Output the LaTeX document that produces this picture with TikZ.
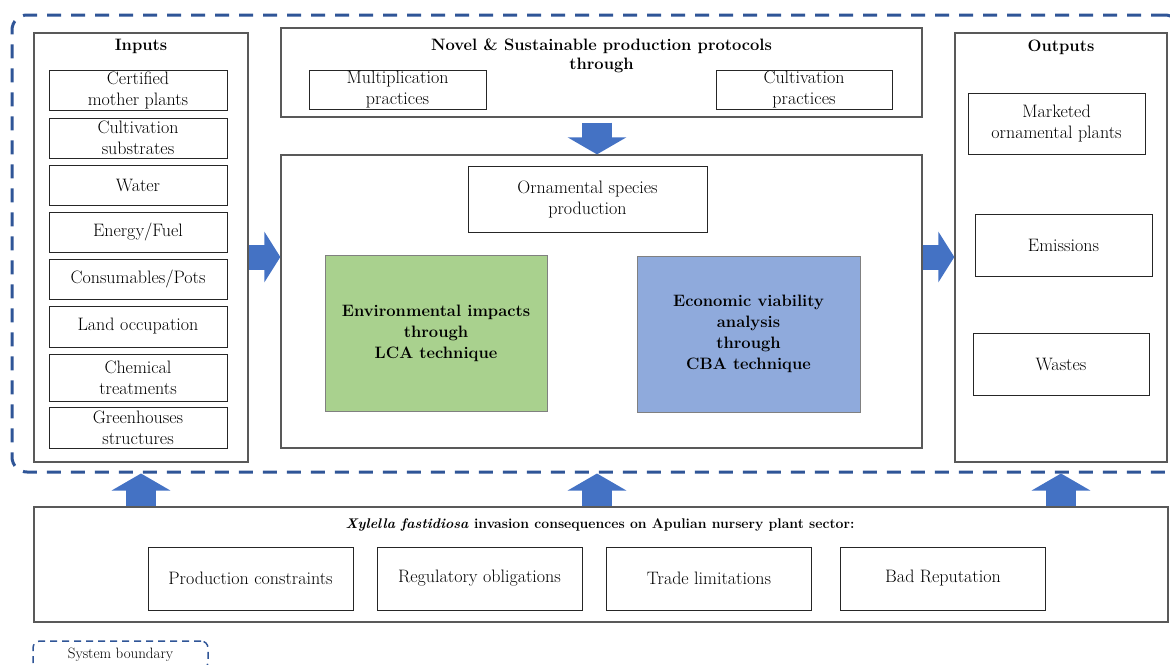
\documentclass[tikz,border=0pt]{standalone}
\usetikzlibrary{arrows.meta}
\usetikzlibrary{positioning}

\definecolor{arrowblue}{HTML}{4472C4}
\definecolor{bounddash}{HTML}{2F5597}
\definecolor{lcagreen}{HTML}{A9D18E}
\definecolor{cbablue}{HTML}{8FAADC}

\begin{document}
\begin{tikzpicture}[x=1pt, y=-1pt,
    box/.style={draw=black!85, line width=1pt, inner sep=0pt, align=center,
      font=\fontsize{18}{21}\selectfont},
    frame/.style={draw=black!65, line width=1.3pt, inner sep=0pt},
    heading/.style={inner sep=0pt, align=center, font=\fontsize{16.5}{19}\selectfont\bfseries},
    method/.style={draw=black!50, line width=1pt, inner sep=0pt, align=center,
      font=\fontsize{16.5}{21}\selectfont\bfseries},
    hfat/.style={draw=arrowblue, line width=25pt, -{Triangle[length=16pt, width=50pt]}},
    vfat/.style={draw=arrowblue, line width=30pt, -{Triangle[length=17pt, width=58pt]}},
    boundline/.style={draw=bounddash, dash pattern=on 14pt off 10pt, rounded corners=15pt}]
  \useasboundingbox (0, 0) rectangle (1170, 664);

  % system boundary
  \node[boundline, line width=3pt, inner sep=0pt, minimum width=1168pt, minimum height=457pt]
    (boundary) at (596, 243.5) {};

  % inputs
  \node[frame, minimum width=214pt, minimum height=429pt] (inputs) at (141, 247.5) {};
  \node[heading, below=7pt of inputs.north] (inputs-title) {Inputs};
  \foreach \name/\y/\h/\txt in {cert/90/40/{Certified\\mother plants},
      subst/138/40/{Cultivation\\substrates},
      water/185/40/{Water},
      fuel/232/40/{Energy/Fuel},
      pots/279/40/{Consumables/Pots},
      land/326.5/41/{Land occupation},
      chem/377.5/47/{Chemical\\treatments},
      green/427.5/41/{Greenhouses\\structures}}
    \node[box, minimum width=178pt, minimum height=\h pt] (\name) at (138, \y) {\txt};

  % production protocols
  \node[frame, minimum width=641pt, minimum height=89pt] (proto) at (601.5, 72.5) {};
  \node[heading, below=11pt of proto.north] (proto-title)
    {Novel \& Sustainable production protocols\\through};
  \node[box, minimum width=177pt, minimum height=39pt] (multi) at (397.5, 89.5) {Multiplication\\practices};
  \node[box, minimum width=176pt, minimum height=39pt] (cultp) at (804, 89.5) {Cultivation\\practices};

  % production system
  \node[frame, minimum width=641pt, minimum height=293pt] (system) at (601.5, 301.5) {};
  \node[box, minimum width=239pt, minimum height=66pt] (orn) at (587.5, 199) {Ornamental species\\production};
  \node[method, fill=lcagreen, minimum width=222pt, minimum height=156pt] (lca) at (436, 333)
    {Environmental impacts\\through\\LCA technique};
  \node[method, fill=cbablue, minimum width=223pt, minimum height=156pt] (cba) at (748.5, 334)
    {Economic viability\\analysis\\through\\CBA technique};

  % outputs
  \node[frame, minimum width=212pt, minimum height=429pt] (outputs) at (1061, 247.5) {};
  \node[heading, below=7pt of outputs.north] (outputs-title) {Outputs};
  \node[box, minimum width=177pt, minimum height=61pt] (market) at (1056.5, 123.5) {Marketed\\ornamental plants};
  \node[box, minimum width=177pt, minimum height=62pt] (emis) at (1063.5, 245) {Emissions};
  \node[box, minimum width=176pt, minimum height=62pt] (waste) at (1061, 364) {Wastes};

  % Xylella consequences
  \node[frame, minimum width=1134pt, minimum height=115pt] (xylella) at (601, 564.5) {};
  \node[inner sep=0pt, font=\fontsize{14}{17}\selectfont\bfseries] (xylella-title) at (600, 525)
    {\textit{Xylella fastidiosa} invasion consequences on Apulian nursery plant sector:};
  \foreach \name/\x/\txt in {prod/250.5/{Production constraints},
      regul/479.5/{Regulatory obligations},
      trade/709/{Trade limitations},
      bad/943/{Bad Reputation}}
    \node[box, minimum width=205pt, minimum height=63pt] (\name) at (\x, 578.5) {\txt};

  % legend
  \node[boundline, line width=1.5pt, rounded corners=7pt, dash pattern=on 7pt off 5pt,
    minimum width=175pt, minimum height=28pt, inner sep=0pt, font=\fontsize{15}{17}\selectfont]
    (legend) at (120.5, 655) {System boundary};

  % block arrows
  \coordinate (flow) at (0, 257);
  \coordinate (mid) at (597, 0);
  \draw[hfat] (inputs.east |- flow) -- (system.west |- flow);
  \draw[hfat] (system.east |- flow) -- (outputs.west |- flow);
  \draw[vfat] ([yshift=-5pt]proto.south -| mid) -- (system.north -| mid);
  \draw[vfat] (xylella.north -| inputs.south) -- (boundary.south -| inputs.south);
  \draw[vfat] (xylella.north -| mid) -- (boundary.south -| mid);
  \draw[vfat] (xylella.north -| outputs.south) -- (boundary.south -| outputs.south);
\end{tikzpicture}
\end{document}
